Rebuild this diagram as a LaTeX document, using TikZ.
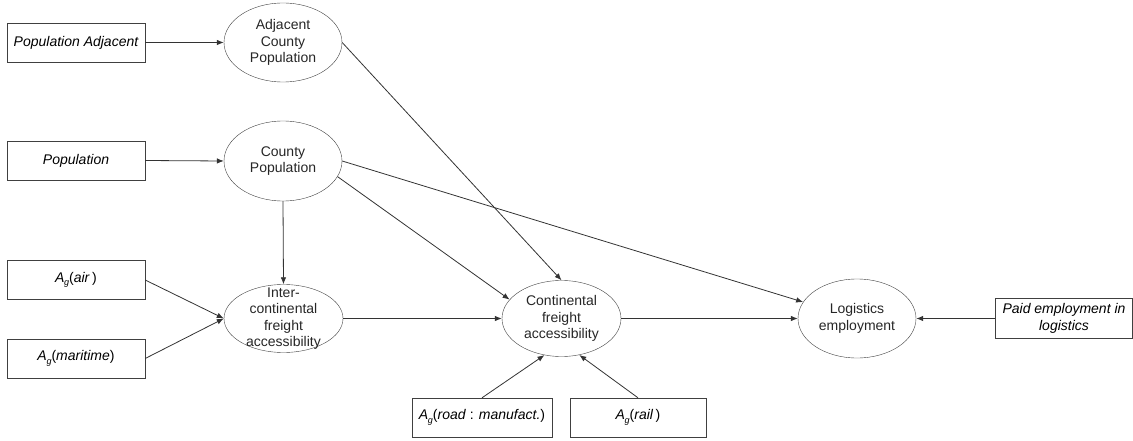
\documentclass[tikz,border=0pt]{standalone}
\usepackage{fontspec}
\setmainfont{Liberation Sans}
\usetikzlibrary{shapes.geometric,arrows.meta}
\newcommand{\Ag}{\textit{A}\kern-0.3pt\raisebox{-0.45ex}{\fontsize{9}{9}\selectfont\textit{g}}}
\begin{document}
\begin{tikzpicture}[x=1pt,y=-1pt,
  box/.style={draw=black!75, rectangle, minimum width=138pt, minimum height=39pt, inner sep=0pt, align=center, font=\fontsize{14}{16.5}\selectfont},
  ibox/.style={box, font=\fontsize{14}{16.5}\selectfont\itshape},
  ell/.style={draw=black!75, ellipse, inner sep=0pt},
  lbl/.style={align=center, inner sep=0pt, text=black!85, font=\fontsize{14}{16.5}\selectfont},
  arr/.style={-{Latex[length=7pt,width=5.5pt]}, draw=black!80, line width=0.8pt}]
\useasboundingbox (0,0) rectangle (1133,441);
% boxes
\node[ibox] (popadj) at (76,42.5) {Population Adjacent};
\node[ibox] (pop) at (76,160.5) {Population};
\node[box] (air) at (76,280) {\Ag(\textit{air}\,)};
\node[box] (mar) at (76,358.5) {\Ag(\textit{maritime})};
\node[box, minimum width=140pt] (road) at (482,417.5) {\Ag(\textit{road} : \textit{manufact.})};
\node[box, minimum width=136pt] (rail) at (638,417.5) {\Ag(\textit{rail}\,)};
\node[ibox, minimum width=137pt, minimum height=40pt] (paid) at (1064,318.5) {Paid employment in\\logistics};
% ellipses
\node[ell, minimum width=118pt, minimum height=79pt] (adj) at (283,42.5) {};
\node[lbl] (adjt) at (adj) {Adjacent\\County\\Population};
\node[ell, minimum width=118pt, minimum height=80pt] (county) at (283,161) {};
\node[lbl] (countyt) at (county) {County\\Population};
\node[ell, minimum width=119pt, minimum height=68pt] (inter) at (283.5,318.5) {};
\node[lbl] (intert) at (inter) {Inter-\\continental\\freight\\accessibility};
\node[ell, minimum width=119pt, minimum height=76pt] (cont) at (561.5,318.5) {};
\node[lbl] (contt) at (cont) {Continental\\freight\\accessibility};
\node[ell, minimum width=118pt, minimum height=79pt] (logi) at (857,318.5) {};
\node[lbl] (logit) at (logi) {Logistics\\employment};
% arrows
\draw[arr] (popadj.east) -- (adj.west);
\draw[arr] (pop.east) -- (county.west);
\draw[arr] (county.south) -- (inter.north);
\draw[arr] (air.east) -- (inter.west);
\draw[arr] (mar.east) -- (inter.west);
\draw[arr] (inter.east) -- (cont.west);
\draw[arr] (adj.east) -- (cont.north);
\draw[arr] (county.-16) -- (cont.160);
\draw[arr] (county.east) -- (logi.163);
\draw[arr] (cont.east) -- (logi.west);
\draw[arr] (paid.west) -- (logi.east);
\draw[arr] (road.north) -- (cont.-115);
\draw[arr] (rail.north) -- (cont.-64);
\end{tikzpicture}
\end{document}
